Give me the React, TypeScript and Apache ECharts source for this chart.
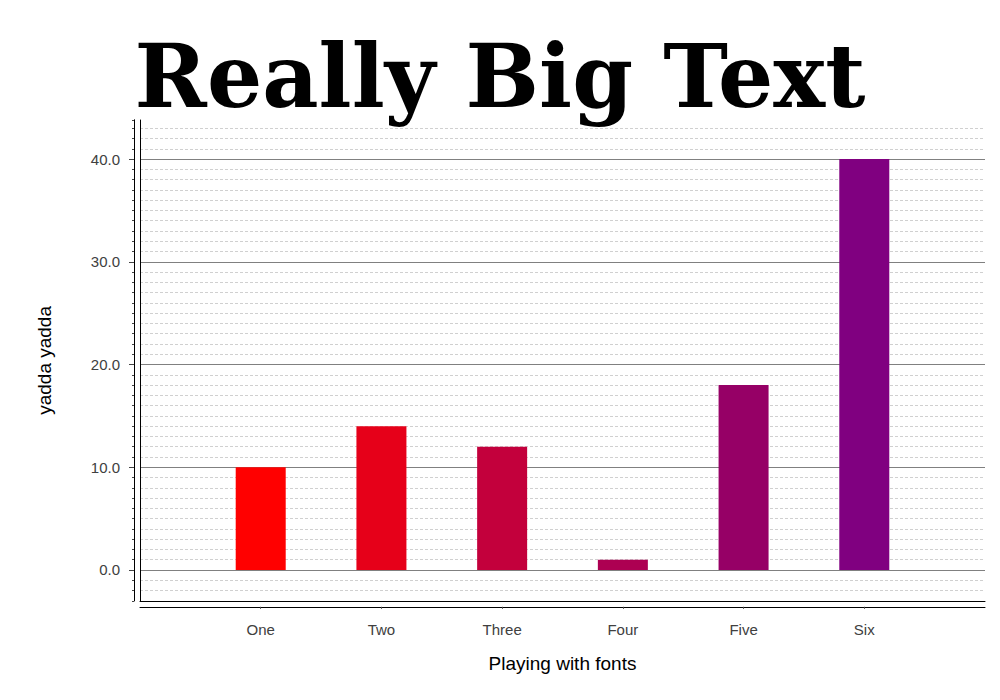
import React, { useEffect, useRef } from "react";
import * as echarts from "echarts";

const categories = ["One", "Two", "Three", "Four", "Five", "Six"];
const values = [10, 14, 12, 1, 18, 40];
const barColors = ["#FF0000", "#E60019", "#C3003C", "#AD0052", "#960066", "#800080"];
const majorTicks = [0, 10, 20, 30, 40];
const titleText = "Really Big Text";
const xName = "Playing with fonts";
const yName = "yadda yadda";

const Y_MIN = -3;
const Y_MAX = 43.8;

export default function App() {
  const ref = useRef<HTMLDivElement>(null);
  useEffect(() => {
    document.body.style.margin = "0";
    const chart = echarts.init(ref.current!, null, { renderer: "svg" });
    const catData = ["", ...categories, ""];
    const seriesData: any[] = [
      null,
      ...values.map((v, i) => ({ value: v, itemStyle: { color: barColors[i] } })),
      null,
    ];
    const font = "Liberation Sans";
    chart.setOption({
      animation: false,
      backgroundColor: "#ffffff",
      title: {
        text: titleText,
        left: "center",
        top: 28,
        textStyle: {
          fontFamily: "DejaVu Serif",
          fontWeight: "bold",
          fontSize: 87,
          color: "#000000",
        },
      },
      grid: { left: 140, right: 15, top: 120, bottom: 99.2, containLabel: false },
      xAxis: [
        {
          type: "category",
          data: catData,
          boundaryGap: false,
          position: "bottom",
          offset: 6,
          axisLine: { show: true, onZero: false, lineStyle: { color: "#000", width: 1 } },
          axisTick: {
            show: true,
            length: 2,
            interval: (i: number) => i > 0 && i < catData.length - 1,
            lineStyle: { color: "#444" },
          },
          axisLabel: {
            interval: 0,
            margin: 15,
            color: "#404040",
            fontFamily: font,
            fontSize: 15,
          },
          splitLine: { show: false },
          name: xName,
          nameLocation: "middle",
          nameGap: 47,
          nameTextStyle: { color: "#000", fontFamily: font, fontSize: 19 },
        },
        {
          type: "category",
          data: catData,
          boundaryGap: false,
          position: "bottom",
          offset: 0,
          axisLine: { show: true, onZero: false, lineStyle: { color: "#000", width: 1 } },
          axisTick: { show: false },
          axisLabel: { show: false },
          splitLine: { show: false },
        },
      ],
      yAxis: [
        {
          type: "value",
          position: "left",
          min: Y_MIN,
          max: Y_MAX,
          offset: 6,
          z: 1,
          axisLine: { show: true, onZero: false, lineStyle: { color: "#000", width: 1 } },
          axisTick: {
            show: true,
            length: 5,
            customValues: majorTicks,
            lineStyle: { color: "#444" },
          },
          axisLabel: {
            customValues: majorTicks,
            formatter: (v: number) => v.toFixed(1),
            color: "#404040",
            fontFamily: font,
            fontSize: 15,
            margin: 14,
          },
          splitLine: {
            show: true,
            lineStyle: { color: "#808080", width: 1 },
          },
          name: yName,
          nameLocation: "middle",
          nameRotate: 90,
          nameGap: 80,
          nameTextStyle: { color: "#000", fontFamily: font, fontSize: 19 },
        },
        {
          type: "value",
          position: "left",
          min: Y_MIN,
          max: Y_MAX,
          interval: 1,
          offset: 6,
          z: 0,
          axisLine: { show: true, onZero: false, lineStyle: { color: "#000", width: 1 } },
          axisTick: { show: true, length: 2, lineStyle: { color: "#444" } },
          axisLabel: { show: false },
          splitLine: {
            show: true,
            showMinLine: false,
            showMaxLine: false,
            lineStyle: { color: "#d0d0d0", width: 1, type: [3, 2] },
          },
        },
        {
          type: "value",
          position: "left",
          min: Y_MIN,
          max: Y_MAX,
          offset: 0,
          z: 1,
          axisLine: { show: true, onZero: false, lineStyle: { color: "#000", width: 1 } },
          axisTick: { show: false },
          axisLabel: { show: false },
          splitLine: { show: false },
        },
      ],
      series: [
        {
          type: "bar",
          xAxisIndex: 0,
          yAxisIndex: 0,
          data: seriesData,
          barWidth: 50,
          z: 3,
        },
      ],
    });
    return () => chart.dispose();
  }, []);
  return <div ref={ref} style={{ width: 1000, height: 700 }} />;
}
